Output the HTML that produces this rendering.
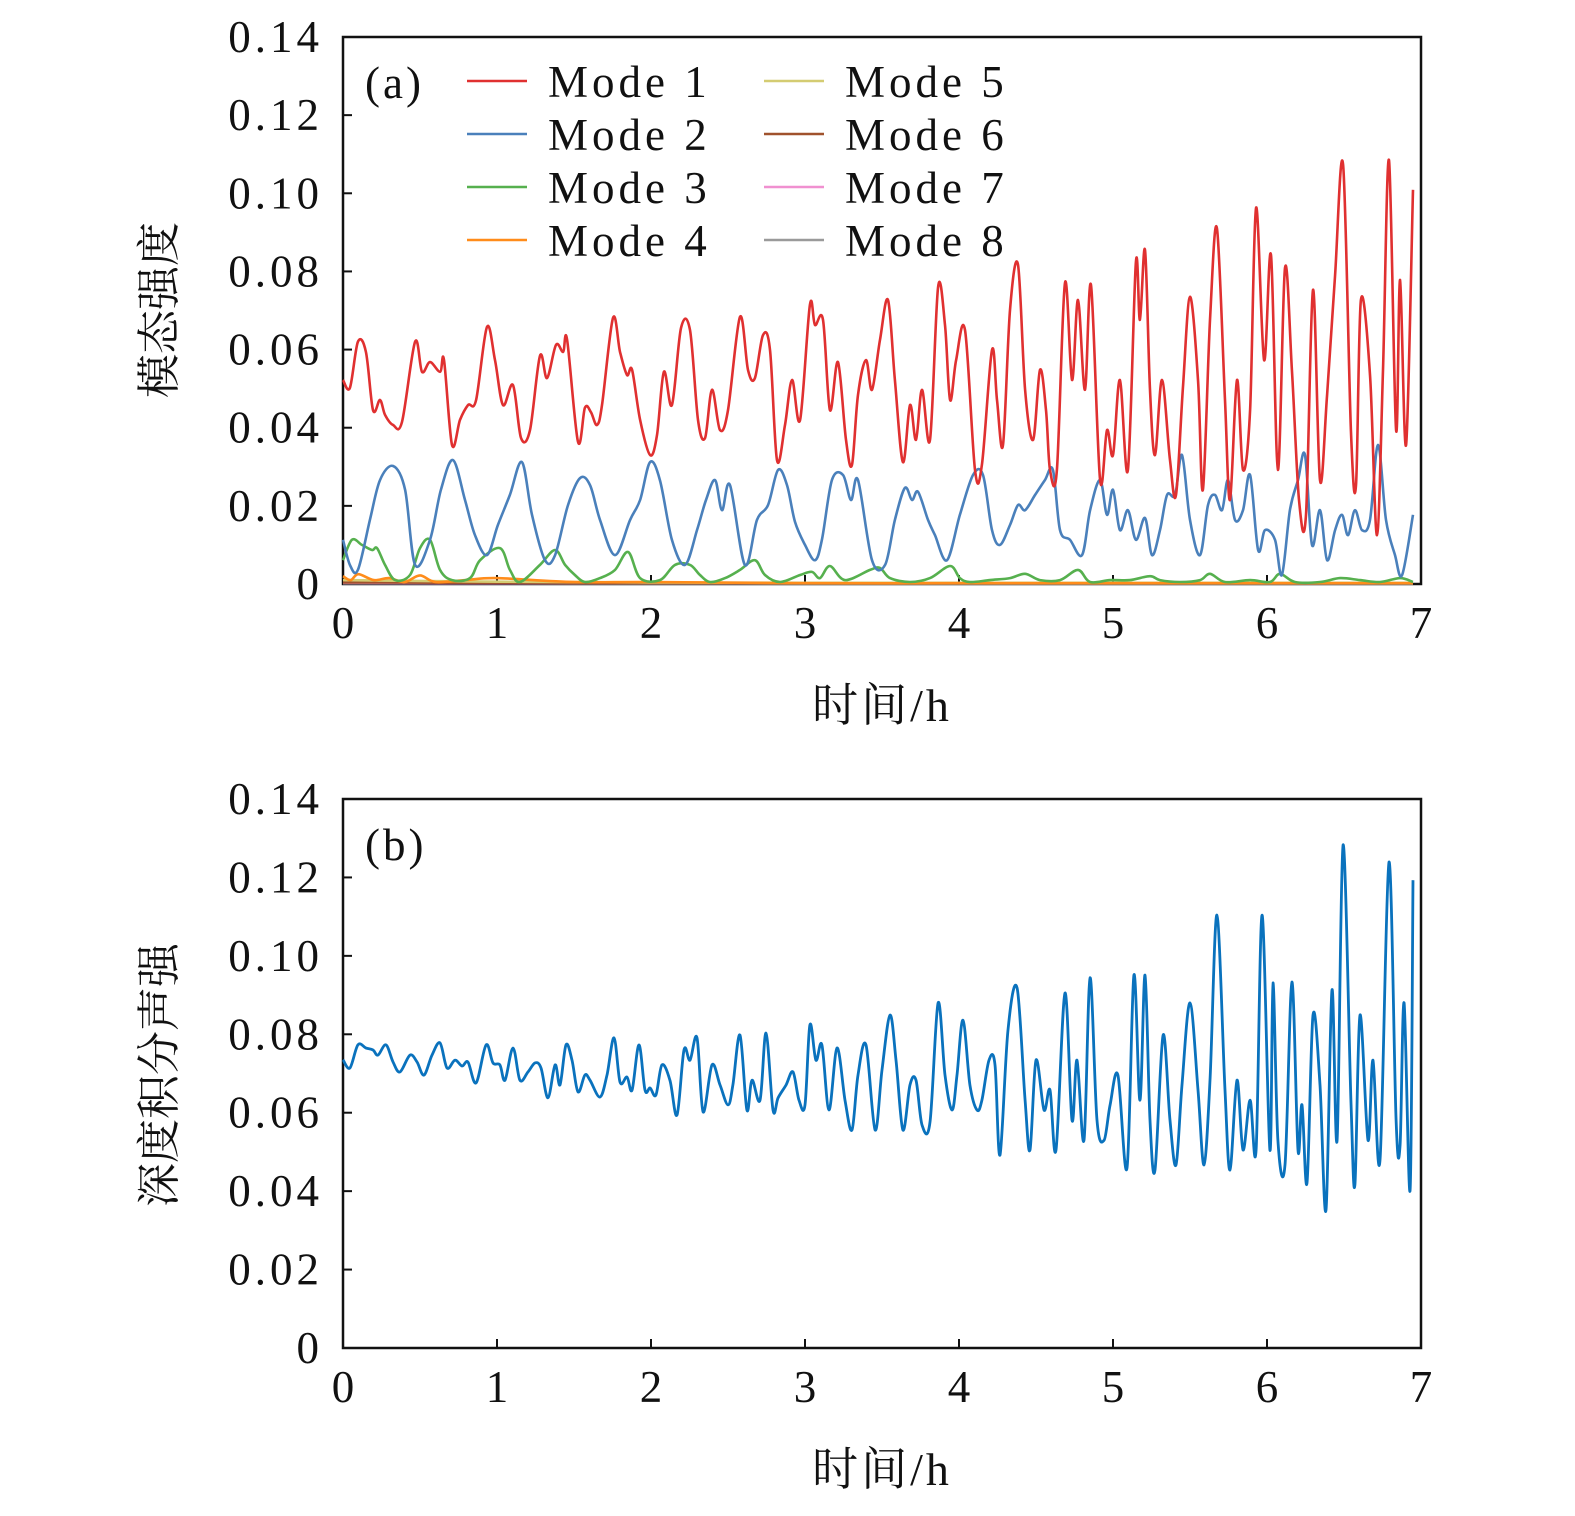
<!DOCTYPE html>
<html><head><meta charset="utf-8"><style>
html,body{margin:0;padding:0;background:#fff;}
svg{display:block;}
text{font-family:"Liberation Serif","Noto Serif CJK SC",serif;fill:#111;}
.cjk{font-family:"Liberation Serif","Noto Serif CJK SC","Noto Sans CJK SC",serif;}
</style></head><body>
<svg id="chart" width="1575" height="1516" viewBox="0 0 1575 1516" xmlns="http://www.w3.org/2000/svg"></svg>
<script>
// ---------- data ----------
const xTicks=[0,1,2,3,4,5,6,7];
const yTicks=[0,0.02,0.04,0.06,0.08,0.10,0.12,0.14];
const yTickLabels=["0","0.02","0.04","0.06","0.08","0.10","0.12","0.14"];
const modeNames=["Mode 1","Mode 2","Mode 3","Mode 4","Mode 5","Mode 6","Mode 7","Mode 8"];
const modeColors=["#e03030","#4a80bb","#56b04e","#ff8c1a","#d4cc72","#a0522d","#f090d0","#9a9a9a"];

const m1T=[0,.045,.097,.149,.195,.240,.273,.325,.383,.468,.513,.565,.630,.656,.708,.760,.812,.864,.935,.987,1.039,1.104,1.156,1.214,1.279,1.325,1.383,1.429,1.455,1.526,1.571,1.610,1.649,1.682,1.753,1.799,1.844,1.877,1.929,1.994,2.039,2.084,2.136,2.195,2.253,2.305,2.351,2.396,2.448,2.500,2.578,2.630,2.675,2.727,2.773,2.818,2.870,2.916,2.968,3.032,3.065,3.117,3.162,3.214,3.266,3.305,3.344,3.396,3.435,3.487,3.539,3.584,3.636,3.682,3.721,3.760,3.812,3.864,3.909,3.942,3.981,4.039,4.104,4.149,4.214,4.247,4.286,4.331,4.383,4.429,4.481,4.526,4.565,4.591,4.636,4.688,4.734,4.773,4.818,4.857,4.916,4.961,5.000,5.045,5.097,5.149,5.175,5.208,5.240,5.273,5.318,5.370,5.409,5.455,5.500,5.552,5.584,5.630,5.675,5.727,5.760,5.805,5.844,5.890,5.929,5.981,6.026,6.071,6.117,6.162,6.208,6.253,6.299,6.344,6.390,6.442,6.494,6.545,6.578,6.610,6.669,6.714,6.753,6.792,6.838,6.864,6.903,6.948];
const m1V=[.0522,.0502,.0620,.0594,.0445,.0471,.0433,.0407,.0415,.0620,.0543,.0568,.0543,.0573,.0356,.0420,.0458,.0471,.0658,.0573,.0458,.0509,.0374,.0394,.0584,.0527,.0612,.0594,.0625,.0364,.0451,.0440,.0407,.0458,.0681,.0594,.0535,.0548,.0420,.0330,.0381,.0543,.0458,.0655,.0650,.0420,.0374,.0497,.0394,.0445,.0684,.0548,.0527,.0637,.0599,.0317,.0407,.0522,.0420,.0714,.0663,.0676,.0445,.0568,.0369,.0305,.0484,.0573,.0497,.0625,.0727,.0522,.0312,.0458,.0369,.0497,.0369,.0760,.0663,.0471,.0573,.0650,.0292,.0305,.0599,.0471,.0356,.0701,.0817,.0497,.0369,.0548,.0445,.0292,.0292,.0771,.0522,.0727,.0497,.0765,.0266,.0394,.0330,.0522,.0292,.0824,.0676,.0855,.0497,.0330,.0522,.0317,.0228,.0509,.0735,.0522,.0241,.0676,.0911,.0471,.0215,.0522,.0292,.0445,.0963,.0573,.0842,.0292,.0809,.0548,.0215,.0177,.0753,.0266,.0484,.0791,.1073,.0394,.0253,.0727,.0535,.0125,.0548,.1085,.0394,.0778,.0356,.1009];

const m2T=[0,.045,.097,.175,.240,.325,.403,.468,.565,.636,.714,.792,.857,.935,1.006,1.084,1.162,1.227,1.312,1.377,1.461,1.539,1.604,1.669,1.766,1.864,1.929,1.994,2.058,2.136,2.221,2.299,2.357,2.416,2.461,2.513,2.610,2.688,2.760,2.825,2.883,2.935,3.000,3.065,3.110,3.175,3.247,3.299,3.344,3.435,3.520,3.584,3.649,3.695,3.734,3.799,3.844,3.922,4.006,4.091,4.156,4.214,4.266,4.331,4.383,4.429,4.494,4.558,4.610,4.656,4.721,4.799,4.851,4.916,4.961,5.000,5.045,5.097,5.149,5.208,5.253,5.305,5.351,5.403,5.448,5.500,5.565,5.617,5.662,5.708,5.747,5.792,5.844,5.890,5.942,5.987,6.052,6.097,6.149,6.201,6.247,6.292,6.344,6.390,6.442,6.487,6.526,6.571,6.617,6.669,6.721,6.773,6.831,6.877,6.948];
const m2V=[.0113,.0049,.0036,.0164,.0266,.0302,.0241,.0049,.0113,.0241,.0317,.0215,.0125,.0074,.0151,.0228,.0312,.0177,.0061,.0074,.0202,.0271,.0253,.0164,.0074,.0164,.0215,.0312,.0266,.0113,.0049,.0138,.0215,.0266,.0189,.0253,.0049,.0164,.0202,.0292,.0253,.0159,.0100,.0061,.0113,.0266,.0279,.0215,.0266,.0061,.0049,.0164,.0246,.0215,.0236,.0164,.0125,.0061,.0177,.0279,.0279,.0138,.0100,.0151,.0202,.0189,.0228,.0266,.0292,.0138,.0113,.0074,.0189,.0266,.0177,.0241,.0138,.0189,.0113,.0169,.0074,.0138,.0228,.0228,.0330,.0164,.0074,.0202,.0228,.0189,.0266,.0164,.0189,.0279,.0087,.0138,.0113,.0023,.0189,.0266,.0330,.0100,.0189,.0061,.0138,.0177,.0125,.0189,.0138,.0164,.0356,.0164,.0074,.0023,.0177];

const m3T=[0,.058,.123,.188,.221,.273,.338,.435,.500,.565,.630,.708,.825,.890,1.019,1.084,1.149,1.279,1.377,1.442,1.506,1.571,1.669,1.766,1.851,1.929,2.058,2.156,2.253,2.318,2.383,2.481,2.578,2.675,2.740,2.838,2.968,3.045,3.097,3.162,3.260,3.422,3.487,3.552,3.682,3.812,3.942,4.006,4.071,4.201,4.331,4.429,4.526,4.656,4.773,4.851,4.981,5.110,5.240,5.305,5.435,5.565,5.630,5.727,5.890,6.019,6.084,6.182,6.344,6.474,6.604,6.734,6.864,6.948];
const m3V=[.0061,.0113,.0100,.0087,.0092,.0049,.0010,.0023,.0092,.0113,.0036,.0010,.0015,.0061,.0092,.0036,.0005,.0049,.0087,.0049,.0023,.0005,.0015,.0036,.0082,.0015,.0010,.0049,.0049,.0023,.0005,.0015,.0036,.0061,.0023,.0005,.0023,.0031,.0015,.0046,.0010,.0036,.0041,.0015,.0005,.0015,.0046,.0015,.0005,.0010,.0015,.0026,.0010,.0010,.0036,.0005,.0010,.0010,.0020,.0010,.0005,.0010,.0026,.0005,.0010,.0005,.0026,.0005,.0005,.0015,.0010,.0005,.0015,.0005];

const m4T=[0,.05,.1,.2,.3,.4,.5,.6,.8,1.0,1.5,2.0,3.0,4.0,5.0,6.0,6.948];
const m4V=[.0020,.0010,.0025,.0010,.0015,.0005,.0022,.0005,.0010,.0015,.0005,.0005,.0002,.0002,.0002,.0002,.0002];
const m5T=[0,1,2,3,4,5,6,6.948];
const m5V=[.0010,.0006,.0004,.0003,.0003,.0003,.0003,.0003];
const m6T=[0,1,2,3,4,5,6,6.948];
const m6V=[.0004,.0003,.0002,.0002,.0002,.0002,.0002,.0002];
const m7T=[0,1,2,3,4,5,6,6.948];
const m7V=[.0003,.0002,.0002,.0002,.0002,.0002,.0002,.0002];
const m8T=[0,1,2,3,4,5,6,6.948];
const m8V=[.0002,.0002,.0001,.0001,.0001,.0001,.0001,.0001];

const bT=[0,.045,.097,.149,.195,.227,.279,.325,.370,.435,.481,.526,.578,.630,.675,.727,.773,.812,.864,.929,.974,1.019,1.052,1.104,1.149,1.201,1.247,1.286,1.331,1.377,1.409,1.448,1.487,1.526,1.571,1.604,1.669,1.714,1.760,1.799,1.844,1.877,1.922,1.961,1.994,2.032,2.071,2.123,2.169,2.214,2.253,2.299,2.338,2.396,2.448,2.500,2.532,2.578,2.623,2.656,2.708,2.747,2.792,2.825,2.877,2.922,2.961,3.000,3.032,3.071,3.110,3.156,3.208,3.260,3.305,3.344,3.396,3.455,3.500,3.552,3.591,3.636,3.682,3.721,3.760,3.812,3.864,3.909,3.955,3.987,4.026,4.071,4.117,4.149,4.195,4.234,4.266,4.318,4.377,4.429,4.461,4.500,4.552,4.591,4.630,4.688,4.734,4.766,4.812,4.851,4.896,4.942,4.981,5.032,5.091,5.136,5.175,5.208,5.240,5.273,5.325,5.370,5.409,5.448,5.500,5.552,5.591,5.630,5.675,5.727,5.760,5.805,5.844,5.890,5.929,5.968,6.019,6.039,6.071,6.117,6.162,6.201,6.227,6.260,6.299,6.344,6.383,6.422,6.455,6.494,6.545,6.571,6.604,6.656,6.688,6.734,6.792,6.838,6.864,6.890,6.929,6.948];
const bV=[.0735,.0714,.0773,.0765,.0760,.0747,.0773,.0729,.0704,.0747,.0729,.0696,.0747,.0778,.0714,.0734,.0719,.0729,.0676,.0773,.0727,.0722,.0683,.0765,.0683,.0704,.0727,.0714,.0638,.0722,.0671,.0773,.0734,.0653,.0696,.0683,.0640,.0696,.0791,.0678,.0691,.0658,.0773,.0658,.0663,.0645,.0722,.0683,.0594,.0760,.0734,.0791,.0602,.0722,.0671,.0620,.0671,.0798,.0607,.0683,.0632,.0803,.0607,.0638,.0671,.0704,.0632,.0620,.0824,.0734,.0773,.0607,.0765,.0632,.0556,.0696,.0773,.0556,.0709,.0849,.0734,.0556,.0671,.0683,.0569,.0576,.0880,.0696,.0607,.0696,.0836,.0671,.0607,.0632,.0734,.0722,.0492,.0811,.0918,.0632,.0505,.0734,.0607,.0658,.0505,.0905,.0581,.0734,.0530,.0944,.0581,.0530,.0620,.0696,.0459,.0951,.0632,.0951,.0581,.0454,.0798,.0581,.0467,.0671,.0880,.0658,.0467,.0683,.1104,.0658,.0454,.0683,.0505,.0632,.0505,.1104,.0505,.0931,.0530,.0467,.0933,.0505,.0620,.0421,.0849,.0671,.0352,.0913,.0530,.1283,.0632,.0416,.0849,.0530,.0734,.0479,.1239,.0581,.0518,.0880,.0403,.1193];

// ---------- drawing ----------
const NS="http://www.w3.org/2000/svg";
const svg=document.getElementById('chart');
function mk(tag,attrs,parent){const e=document.createElementNS(NS,tag);for(const k in attrs)e.setAttribute(k,attrs[k]);(parent||svg).appendChild(e);return e;}
const X0=343,X1=1421;
function makeAxes(top,bottom){
  return {x:t=>X0+(X1-X0)*t/7, y:v=>bottom-(bottom-top)*v/0.14, top, bottom};
}
function smoothPath(ax,T,V){
  const p=T.map((t,i)=>[ax.x(t),ax.y(V[i])]);
  let d='M'+p[0][0].toFixed(1)+','+p[0][1].toFixed(1);
  for(let i=0;i<p.length-1;i++){
    const p0=p[Math.max(0,i-1)],p1=p[i],p2=p[i+1],p3=p[Math.min(p.length-1,i+2)];
    const c1=[p1[0]+(p2[0]-p0[0])/6,p1[1]+(p2[1]-p0[1])/6];
    const c2=[p2[0]-(p3[0]-p1[0])/6,p2[1]-(p3[1]-p1[1])/6];
    d+='C'+c1[0].toFixed(1)+','+c1[1].toFixed(1)+' '+c2[0].toFixed(1)+','+c2[1].toFixed(1)+' '+p2[0].toFixed(1)+','+p2[1].toFixed(1);
  }
  return d;
}
function drawFrame(ax,panel,ytitle,ytitleY){
  const g=mk('g',{});
  
  
  const fr=mk('rect',{x:X0,y:ax.top,width:X1-X0,height:ax.bottom-ax.top,fill:'none',stroke:'#111','stroke-width':2.5},g);
  
  
  xTicks.forEach(t=>{
    const x=ax.x(t);
    const tk=mk('line',{x1:x,x2:x,y1:ax.bottom,y2:ax.bottom-9,stroke:'#111','stroke-width':2},g);
    
    
    const tl=mk('text',{x:x,y:ax.bottom+54,'text-anchor':'middle','font-size':45},g);
    tl.textContent=String(t);
    
    
  });
  yTicks.forEach((v,i)=>{
    const y=ax.y(v);
    const tk=mk('line',{x1:X0,x2:X0+9,y1:y,y2:y,stroke:'#111','stroke-width':2},g);
    
    
    const tl=mk('text',{x:323,y:y+15,'text-anchor':'end','font-size':45,'letter-spacing':'4'},g);
    tl.textContent=yTickLabels[i];
    
    
  });
  const xt=mk('text',{x:882,y:ax.bottom+137,'text-anchor':'middle','font-size':46,'letter-spacing':'3',class:'cjk'},g);
  xt.textContent='时间/h';
  
  
  const yt=mk('text',{x:0,y:0,'text-anchor':'middle','font-size':44,class:'cjk',transform:'translate(174,'+ytitleY+') rotate(-90)'},g);
  yt.textContent=ytitle;
  
  
  const pl=mk('text',{x:365,y:ax.top+61,'font-size':45,'letter-spacing':'3'},g);
  pl.textContent=panel==='panel-a'?'(a)':'(b)';
  
  
}

// panel a
const axA=makeAxes(37,584);
drawFrame(axA,'panel-a','模态强度',310);
const seriesT=[m1T,m2T,m3T,m4T,m5T,m6T,m7T,m8T];
const seriesV=[m1V,m2V,m3V,m4V,m5V,m6V,m7V,m8V];
for(let k=7;k>=0;k--){
  const pa=mk('path',{d:smoothPath(axA,seriesT[k],seriesV[k]),fill:'none',stroke:modeColors[k],'stroke-width':2.6,'stroke-linejoin':'round'});
  
  
}
// legend
const lg=mk('g',{});


modeNames.forEach((n,k)=>{
  const col=Math.floor(k/4),row=k%4;
  const lx=467+col*297,ly=81+row*53;
  const ln=mk('line',{x1:lx,x2:lx+60,y1:ly,y2:ly,stroke:modeColors[k],'stroke-width':2.6},lg);
  
  
  const tx=mk('text',{x:lx+81,y:ly+16,'font-size':45,'letter-spacing':'4'},lg);
  tx.textContent=n.replace(' ','\u00a0');
  
  
});

// panel b
const axB=makeAxes(799,1348);
drawFrame(axB,'panel-b','深度积分声强',1075);
const pb=mk('path',{d:smoothPath(axB,bT,bV),fill:'none',stroke:'#0a72bd','stroke-width':2.8,'stroke-linejoin':'round'});


</script>
</body></html>
